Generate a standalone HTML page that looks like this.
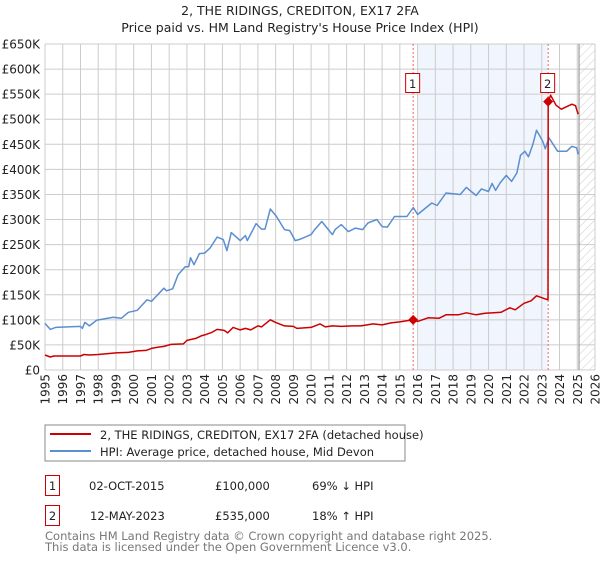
<!DOCTYPE html>
<html><head><meta charset="utf-8"><style>
body{margin:0;background:#fff;font-family:"Liberation Sans","DejaVu Sans",sans-serif;}
svg text{font-family:"DejaVu Sans","Liberation Sans",sans-serif;}
</style></head><body>
<svg id="c" width="600" height="560" viewBox="0 0 600 560" xmlns="http://www.w3.org/2000/svg">
<defs><pattern id="hatch" width="6" height="6" patternUnits="userSpaceOnUse" patternTransform="rotate(45)"><line x1="0" y1="0" x2="0" y2="6" stroke="#ccc" stroke-width="1"/></pattern></defs>
<text x="300" y="15" text-anchor="middle" font-size="12.5" fill="#222">2, THE RIDINGS, CREDITON, EX17 2FA</text>
<text x="300" y="32" text-anchor="middle" font-size="12.5" fill="#222">Price paid vs. HM Land Registry's House Price Index (HPI)</text>
<g id="plot"></g>
<rect x="45" y="425" width="360" height="36" fill="#fff" stroke="#888"/>
<line x1="50" y1="434" x2="91" y2="434" stroke="#cc0000" stroke-width="2"/>
<text x="100" y="439" font-size="11.5" fill="#222">2, THE RIDINGS, CREDITON, EX17 2FA (detached house)</text>
<line x1="50" y1="451" x2="91" y2="451" stroke="#5b8fd0" stroke-width="2"/>
<text x="100" y="456" font-size="11.5" fill="#222">HPI: Average price, detached house, Mid Devon</text>
<rect x="45.5" y="475.5" width="14" height="20" fill="#fff" stroke="#cc0000"/>
<text x="52.5" y="490" text-anchor="middle" font-size="11.5" fill="#222">1</text>
<text x="89" y="490" font-size="11.5" fill="#222">02-OCT-2015</text>
<text x="215" y="490" font-size="11.5" fill="#222">£100,000</text>
<text x="312" y="490" font-size="11.5" fill="#222">69% ↓ HPI</text>
<rect x="45.5" y="505.5" width="14" height="20" fill="#fff" stroke="#cc0000"/>
<text x="52.5" y="520" text-anchor="middle" font-size="11.5" fill="#222">2</text>
<text x="90" y="520" font-size="11.5" fill="#222">12-MAY-2023</text>
<text x="215" y="520" font-size="11.5" fill="#222">£535,000</text>
<text x="312" y="520" font-size="11.5" fill="#222">18% ↑ HPI</text>
<text x="45" y="540" font-size="11.5" fill="#777">Contains HM Land Registry data © Crown copyright and database right 2025.</text>
<text x="45" y="551" font-size="11.5" fill="#777">This data is licensed under the Open Government Licence v3.0.</text>
</svg>
<script>
const yTicks=[0,50,100,150,200,250,300,350,400,450,500,550,600,650];
const yTickLabels=["£0","£50K","£100K","£150K","£200K","£250K","£300K","£350K","£400K","£450K","£500K","£550K","£600K","£650K"];
const xYears=[1995,1996,1997,1998,1999,2000,2001,2002,2003,2004,2005,2006,2007,2008,2009,2010,2011,2012,2013,2014,2015,2016,2017,2018,2019,2020,2021,2022,2023,2024,2025,2026];
const hpiT=[1995.0,1995.3,1995.6,1997.0,1997.1,1997.25,1997.5,1997.9,1998.85,1999.3,1999.7,2000.2,2000.75,2001.0,2001.7,2001.85,2002.2,2002.5,2002.9,2003.1,2003.2,2003.4,2003.7,2004.0,2004.3,2004.7,2005.05,2005.25,2005.5,2006.0,2006.3,2006.4,2006.9,2007.2,2007.4,2007.7,2008.05,2008.5,2008.8,2009.1,2009.4,2010.0,2010.2,2010.6,2011.2,2011.35,2011.7,2012.1,2012.5,2012.9,2013.2,2013.7,2014.0,2014.3,2014.7,2015.4,2015.76,2016.0,2016.8,2017.1,2017.6,2018.4,2018.75,2019.3,2019.6,2020.0,2020.2,2020.4,2020.65,2021.0,2021.3,2021.6,2021.8,2022.05,2022.25,2022.5,2022.7,2022.9,2023.05,2023.2,2023.4,2023.9,2024.4,2024.7,2024.97,2025.05];
const hpiV=[93,81,85,87,83,95,88,99,105,103,115,119,140,137,163,158,162,190,206,206,224,210,232,233,243,265,260,238,274,258,268,258,292,281,281,321,306,280,278,258,261,270,280,296,270,280,290,276,283,280,293,300,286,285,306,306,324,310,333,328,353,350,364,348,361,356,372,358,373,388,376,393,428,436,425,450,478,466,456,441,463,436,436,446,443,430];
const priceT=[1995.0,1995.3,1995.5,1997.0,1997.2,1997.5,1998.0,1999.0,1999.7,2000.2,2000.7,2001.0,2001.3,2001.7,2002.1,2002.8,2003.0,2003.5,2003.8,2004.0,2004.4,2004.7,2005.1,2005.3,2005.6,2006.0,2006.3,2006.6,2007.0,2007.2,2007.7,2008.0,2008.5,2009.0,2009.2,2010.0,2010.5,2010.8,2011.2,2011.7,2012.3,2012.8,2013.5,2014.0,2014.5,2015.0,2015.75,2016.0,2016.6,2017.2,2017.6,2018.3,2018.75,2019.3,2019.8,2020.3,2020.7,2021.2,2021.5,2022.0,2022.4,2022.7,2023.1,2023.35,2023.36,2023.5,2023.8,2024.1,2024.4,2024.7,2024.9,2025.05];
const priceV=[30,26,28,28,31,30,31,34,35,38,39,43,45,47,51,52,59,63,68,70,75,81,79,74,85,80,83,80,88,86,100,95,88,87,83,85,92,86,88,87,88,88,92,90,94,96,100,97,104,103,110,110,114,110,113,114,115,124,120,133,138,148,143,140,535,548,528,520,525,530,527,510];
const saleT=[2015.75,2023.36];
const saleV=[100,535];
const saleLabels=["1","2"];
const shadeRange=[2016.0,2023.36];
const forecastStart=2025.1;

const NS="http://www.w3.org/2000/svg";
const X0=45,X1=595,Y0=370,Y1=44;
const xs=t=>X0+(t-1995)/31*(X1-X0);
const ys=v=>Y0-v/650*(Y0-Y1);
const g=document.getElementById('plot');
function mk(tag,attrs){const e=document.createElementNS(NS,tag);for(const k in attrs)e.setAttribute(k,attrs[k]);g.appendChild(e);return e;}
let sh=mk('rect',{x:xs(shadeRange[0]),y:Y1,width:xs(shadeRange[1])-xs(shadeRange[0]),height:Y0-Y1,fill:'#eef3fc',opacity:0.8});


let ht=mk('rect',{x:xs(forecastStart),y:Y1,width:X1-xs(forecastStart),height:Y0-Y1,fill:'url(#hatch)'});


yTicks.forEach((v,i)=>{
  const l=mk('line',{x1:X0,x2:X1,y1:ys(v),y2:ys(v),stroke:'#ccc','stroke-width':1});
  
  
  const t=mk('text',{x:40,y:ys(v)+4.5,'text-anchor':'end','font-size':12,fill:'#222'});
  
  
  t.textContent=yTickLabels[i];
});
xYears.forEach(yr=>{
  const l=mk('line',{x1:xs(yr),x2:xs(yr),y1:Y1,y2:Y0,stroke:'#ccc','stroke-width':1});
  
  
  const t=mk('text',{x:0,y:0,'text-anchor':'end','font-size':12,fill:'#222',transform:`translate(${xs(yr)+4.5},374) rotate(-90)`});
  
  
  t.textContent=yr;
});
let fl=mk('line',{x1:xs(forecastStart),x2:xs(forecastStart),y1:Y1,y2:Y0,stroke:'#888','stroke-width':1});


saleT.forEach((t,i)=>{
  const l=mk('line',{x1:xs(t),x2:xs(t),y1:Y1,y2:Y0,stroke:'#e66','stroke-width':1,'stroke-dasharray':'2,2'});
  
  
});
function path(T,V){return T.map((t,i)=>(i?'L':'M')+xs(t).toFixed(1)+','+ys(V[i]).toFixed(1)).join('');}
let hp=mk('path',{d:path(hpiT,hpiV),fill:'none',stroke:'#5b8fd0','stroke-width':1.5,'stroke-linejoin':'round'});


let pp=mk('path',{d:path(priceT,priceV),fill:'none',stroke:'#cc0000','stroke-width':1.5,'stroke-linejoin':'round'});


saleT.forEach((t,i)=>{
  const cx=xs(t),cy=ys(saleV[i]);
  const d=mk('path',{d:`M${cx},${cy-5}L${cx+5},${cy}L${cx},${cy+5}L${cx-5},${cy}Z`,fill:'#cc0000'});
  
  
  const b=mk('rect',{x:cx-7.5,y:73.5,width:14,height:19,fill:'#fff',stroke:'#cc0000'});
  
  
  const tx=mk('text',{x:cx-0.5,y:88,'text-anchor':'middle','font-size':11.5,fill:'#222'});
  
  
  tx.textContent=saleLabels[i];
});
</script>
</body></html>
